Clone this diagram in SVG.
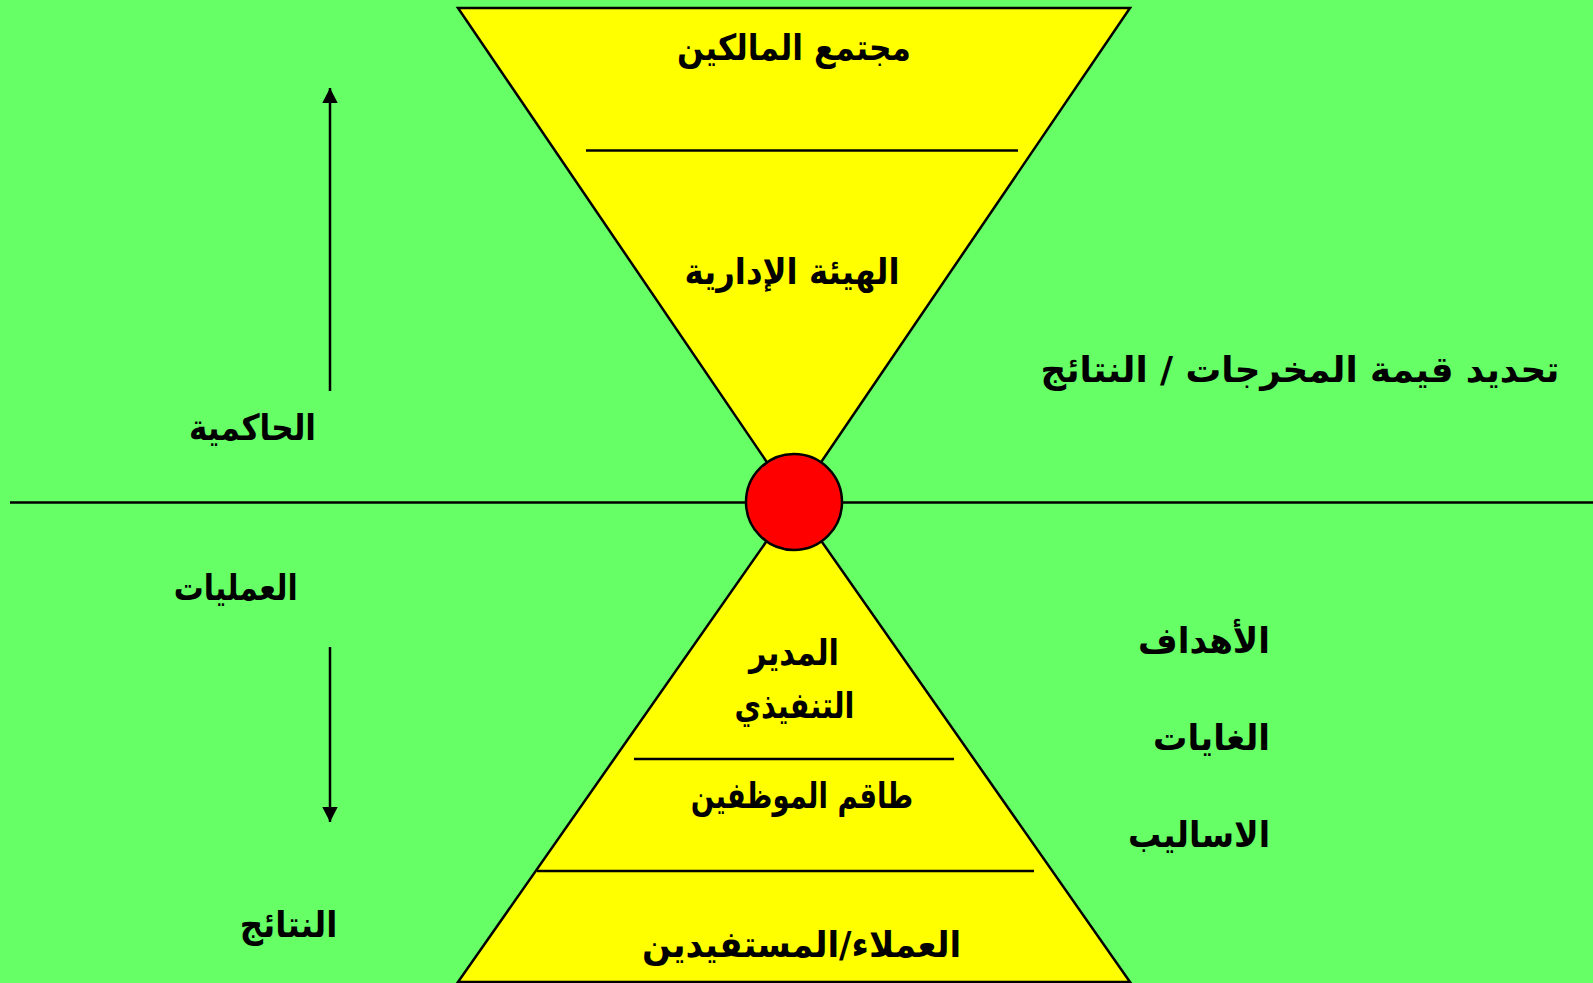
<svg xmlns="http://www.w3.org/2000/svg" width="1593" height="983" viewBox="0 0 1593 983">
<style>
.t{font-family:"DejaVu Sans","Noto Sans",sans-serif;font-weight:bold;font-size:36px;fill:#000;direction:rtl;unicode-bidi:embed;text-anchor:middle}
.ln{stroke:#000;stroke-width:2.5;fill:none}
</style>
<defs>
<marker id="ah" markerWidth="16" markerHeight="16" refX="15" refY="8" orient="auto" markerUnits="userSpaceOnUse">
<path d="M0,0.3 L15,8 L0,15.7 Z" fill="#000"/>
</marker>
</defs>
<rect x="0" y="0" width="1593" height="983" fill="#66FF66"/>
<g id="top-funnel">
<polygon points="458,8 1130,8 794,502" fill="#FFFF00" stroke="#000" stroke-width="2.5"/>
<line class="ln" x1="586" y1="150.5" x2="1018" y2="150.5"/>
</g>
<g id="bottom-funnel">
<polygon points="458,982 1130,982 794,502" fill="#FFFF00" stroke="#000" stroke-width="2.5"/>
<line class="ln" x1="634" y1="759" x2="954" y2="759"/>
<line class="ln" x1="537" y1="871" x2="1034" y2="871"/>
</g>
<g id="axis">
<line class="ln" x1="10" y1="502.5" x2="1593" y2="502.5"/>
</g>
<g id="center">
<circle cx="794" cy="502" r="48" fill="#FF0000" stroke="#000" stroke-width="2.5"/>
</g>
<g id="connectors">
<line class="ln" x1="330" y1="391" x2="330" y2="88" marker-end="url(#ah)"/>
<line class="ln" x1="330" y1="647" x2="330" y2="822" marker-end="url(#ah)"/>
</g>
<g id="n-owners"><text class="t" x="794" y="60" textLength="234" lengthAdjust="spacingAndGlyphs">مجتمع المالكين</text></g>
<g id="n-board"><text class="t" x="792" y="284" textLength="215" lengthAdjust="spacingAndGlyphs">الهيئة الإدارية</text></g>
<g id="n-value"><text class="t" x="1300" y="382" textLength="519" lengthAdjust="spacingAndGlyphs">تحديد قيمة المخرجات / النتائج</text></g>
<g id="n-governance"><text class="t" x="252.5" y="440" textLength="127" lengthAdjust="spacingAndGlyphs">الحاكمية</text></g>
<g id="n-operations"><text class="t" x="235.7" y="600" textLength="124" lengthAdjust="spacingAndGlyphs">العمليات</text></g>
<g id="n-results"><text class="t" x="288.5" y="937" textLength="97.5" lengthAdjust="spacingAndGlyphs">النتائج</text></g>
<g id="n-ceo"><text class="t" x="794" y="665" textLength="90" lengthAdjust="spacingAndGlyphs">المدير</text><text class="t" x="794.5" y="718" textLength="120" lengthAdjust="spacingAndGlyphs">التنفيذي</text></g>
<g id="n-staff"><text class="t" x="802" y="808" textLength="222.5" lengthAdjust="spacingAndGlyphs">طاقم الموظفين</text></g>
<g id="n-clients"><text class="t" x="801.6" y="957" textLength="319" lengthAdjust="spacingAndGlyphs">العملاء/المستفيدين</text></g>
<g id="n-goals"><text class="t" x="1204" y="653" textLength="132" lengthAdjust="spacingAndGlyphs">الأهداف</text></g>
<g id="n-aims"><text class="t" x="1211.5" y="750" textLength="117" lengthAdjust="spacingAndGlyphs">الغايات</text></g>
<g id="n-methods"><text class="t" x="1199" y="847" textLength="142" lengthAdjust="spacingAndGlyphs">الاساليب</text></g>
</svg>
